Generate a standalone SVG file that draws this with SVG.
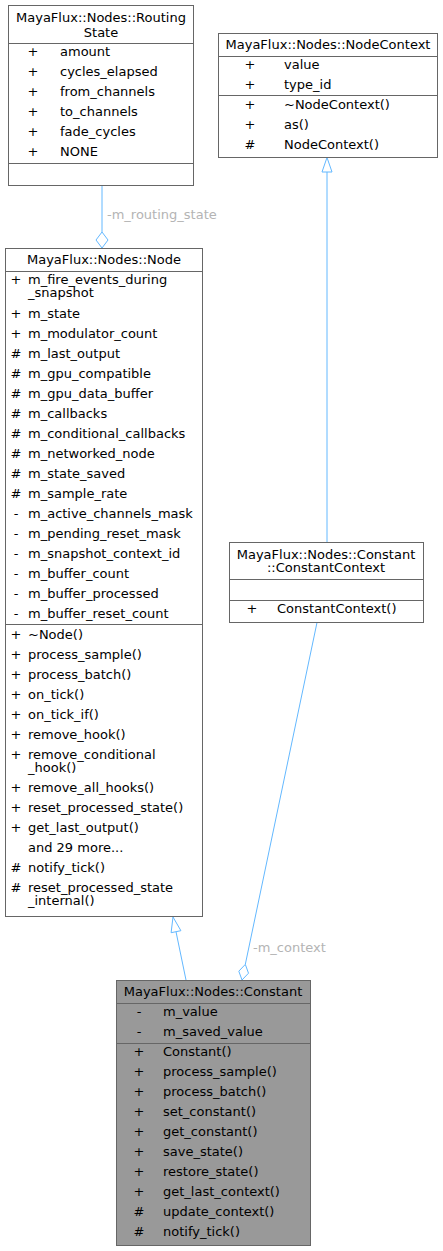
<svg xmlns="http://www.w3.org/2000/svg" width="443" height="1251" viewBox="0 0 443 1251">
<style>
text{font-family:"DejaVu Sans","Liberation Sans",sans-serif;font-size:13px;fill:#000}
.box{fill:#fff;stroke:#666;stroke-width:1}
.cur{fill:#999;stroke:#666;stroke-width:1}
.div{stroke:#666;stroke-width:1}
.t{text-anchor:middle}
.s{text-anchor:middle}
.edge{stroke:#63B8FF;stroke-width:1;fill:none}
.head{stroke:#63B8FF;stroke-width:1;fill:#fff}
.lbl{fill:#B4B4B4}
</style>
<rect width="443" height="1251" fill="#fff"/>
<g id="connectors">
<line class="edge" x1="102" y1="185.5" x2="102" y2="232"/>
<polygon class="head" points="102,248 96,240 102,232 108,240"/>
<text class="lbl" x="107" y="219">-m_routing_state</text>
<line class="edge" x1="327" y1="172" x2="327" y2="542"/>
<polygon class="head" points="327,157.5 332,172 322,172"/>
<line class="edge" x1="186" y1="980" x2="176" y2="931.7"/>
<polygon class="head" points="173,917 180.9,930.7 171.1,932.7"/>
<line class="edge" x1="317" y1="622.5" x2="245.3" y2="964.4"/>
<polygon class="head" points="242,980 238.8,971.2 245.3,964.4 248.5,973.2"/>
<text class="lbl" x="253" y="952">-m_context</text>
</g>
<g id="RoutingState">
<rect class="box" x="8.5" y="5.5" width="185" height="180"/>
<line class="div" x1="8.5" y1="43.5" x2="193.5" y2="43.5"/>
<line class="div" x1="8.5" y1="163.5" x2="193.5" y2="163.5"/>
<text class="t" x="101" y="22">MayaFlux::Nodes::Routing</text>
<text class="t" x="101" y="37">State</text>
<text class="s" x="33" y="56">+</text><text x="60" y="56">amount</text>
<text class="s" x="33" y="76">+</text><text x="60" y="76">cycles_elapsed</text>
<text class="s" x="33" y="96">+</text><text x="60" y="96">from_channels</text>
<text class="s" x="33" y="116">+</text><text x="60" y="116">to_channels</text>
<text class="s" x="33" y="136">+</text><text x="60" y="136">fade_cycles</text>
<text class="s" x="33" y="156">+</text><text x="60" y="156">NONE</text>
</g>
<g id="NodeContext">
<rect class="box" x="218.5" y="33.5" width="219" height="124"/>
<line class="div" x1="218.5" y1="56.5" x2="437.5" y2="56.5"/>
<line class="div" x1="218.5" y1="95.5" x2="437.5" y2="95.5"/>
<text class="t" x="328" y="49">MayaFlux::Nodes::NodeContext</text>
<text class="s" x="250" y="69">+</text><text x="284" y="69">value</text>
<text class="s" x="250" y="89">+</text><text x="284" y="89">type_id</text>
<text class="s" x="250" y="109">+</text><text x="284" y="109">~NodeContext()</text>
<text class="s" x="250" y="129">+</text><text x="284" y="129">as()</text>
<text class="s" x="250" y="149">#</text><text x="284" y="149">NodeContext()</text>
</g>
<g id="Node">
<rect class="box" x="5.5" y="248.5" width="197" height="668"/>
<line class="div" x1="5.5" y1="271.5" x2="202.5" y2="271.5"/>
<line class="div" x1="5.5" y1="624.5" x2="202.5" y2="624.5"/>
<text class="t" x="104" y="264">MayaFlux::Nodes::Node</text>
<text class="s" x="16" y="284">+</text><text x="28" y="284">m_fire_events_during</text>
<text x="28" y="297">_snapshot</text>
<text class="s" x="16" y="318">+</text><text x="28" y="318">m_state</text>
<text class="s" x="16" y="338">+</text><text x="28" y="338">m_modulator_count</text>
<text class="s" x="16" y="358">#</text><text x="28" y="358">m_last_output</text>
<text class="s" x="16" y="378">#</text><text x="28" y="378">m_gpu_compatible</text>
<text class="s" x="16" y="398">#</text><text x="28" y="398">m_gpu_data_buffer</text>
<text class="s" x="16" y="418">#</text><text x="28" y="418">m_callbacks</text>
<text class="s" x="16" y="438">#</text><text x="28" y="438">m_conditional_callbacks</text>
<text class="s" x="16" y="458">#</text><text x="28" y="458">m_networked_node</text>
<text class="s" x="16" y="478">#</text><text x="28" y="478">m_state_saved</text>
<text class="s" x="16" y="498">#</text><text x="28" y="498">m_sample_rate</text>
<text class="s" x="16" y="518">-</text><text x="28" y="518">m_active_channels_mask</text>
<text class="s" x="16" y="538">-</text><text x="28" y="538">m_pending_reset_mask</text>
<text class="s" x="16" y="558">-</text><text x="28" y="558">m_snapshot_context_id</text>
<text class="s" x="16" y="578">-</text><text x="28" y="578">m_buffer_count</text>
<text class="s" x="16" y="598">-</text><text x="28" y="598">m_buffer_processed</text>
<text class="s" x="16" y="618">-</text><text x="28" y="618">m_buffer_reset_count</text>
<text class="s" x="16" y="639">+</text><text x="28" y="639">~Node()</text>
<text class="s" x="16" y="659">+</text><text x="28" y="659">process_sample()</text>
<text class="s" x="16" y="679">+</text><text x="28" y="679">process_batch()</text>
<text class="s" x="16" y="699">+</text><text x="28" y="699">on_tick()</text>
<text class="s" x="16" y="719">+</text><text x="28" y="719">on_tick_if()</text>
<text class="s" x="16" y="739">+</text><text x="28" y="739">remove_hook()</text>
<text class="s" x="16" y="759">+</text><text x="28" y="759">remove_conditional</text>
<text x="28" y="772">_hook()</text>
<text class="s" x="16" y="792">+</text><text x="28" y="792">remove_all_hooks()</text>
<text class="s" x="16" y="812">+</text><text x="28" y="812">reset_processed_state()</text>
<text class="s" x="16" y="832">+</text><text x="28" y="832">get_last_output()</text>
<text x="28" y="852">and 29 more...</text>
<text class="s" x="16" y="872">#</text><text x="28" y="872">notify_tick()</text>
<text class="s" x="16" y="892">#</text><text x="28" y="892">reset_processed_state</text>
<text x="28" y="905">_internal()</text>
</g>
<g id="ConstantContext">
<rect class="box" x="229.5" y="542.5" width="194" height="80"/>
<line class="div" x1="229.5" y1="579.5" x2="423.5" y2="579.5"/>
<line class="div" x1="229.5" y1="600.5" x2="423.5" y2="600.5"/>
<text class="t" x="326" y="559">MayaFlux::Nodes::Constant</text>
<text class="t" x="326" y="572">::ConstantContext</text>
<text class="s" x="252" y="613">+</text><text x="277" y="613">ConstantContext()</text>
</g>
<g id="Constant">
<rect class="cur" x="116.5" y="980.5" width="194" height="265"/>
<line class="div" x1="116.5" y1="1003.5" x2="310.5" y2="1003.5"/>
<line class="div" x1="116.5" y1="1043.5" x2="310.5" y2="1043.5"/>
<text class="t" x="213" y="996">MayaFlux::Nodes::Constant</text>
<text class="s" x="139" y="1016">-</text><text x="163" y="1016">m_value</text>
<text class="s" x="139" y="1036">-</text><text x="163" y="1036">m_saved_value</text>
<text class="s" x="139" y="1056">+</text><text x="163" y="1056">Constant()</text>
<text class="s" x="139" y="1076">+</text><text x="163" y="1076">process_sample()</text>
<text class="s" x="139" y="1096">+</text><text x="163" y="1096">process_batch()</text>
<text class="s" x="139" y="1116">+</text><text x="163" y="1116">set_constant()</text>
<text class="s" x="139" y="1136">+</text><text x="163" y="1136">get_constant()</text>
<text class="s" x="139" y="1156">+</text><text x="163" y="1156">save_state()</text>
<text class="s" x="139" y="1176">+</text><text x="163" y="1176">restore_state()</text>
<text class="s" x="139" y="1196">+</text><text x="163" y="1196">get_last_context()</text>
<text class="s" x="139" y="1216">#</text><text x="163" y="1216">update_context()</text>
<text class="s" x="139" y="1236">#</text><text x="163" y="1236">notify_tick()</text>
</g>
</svg>
